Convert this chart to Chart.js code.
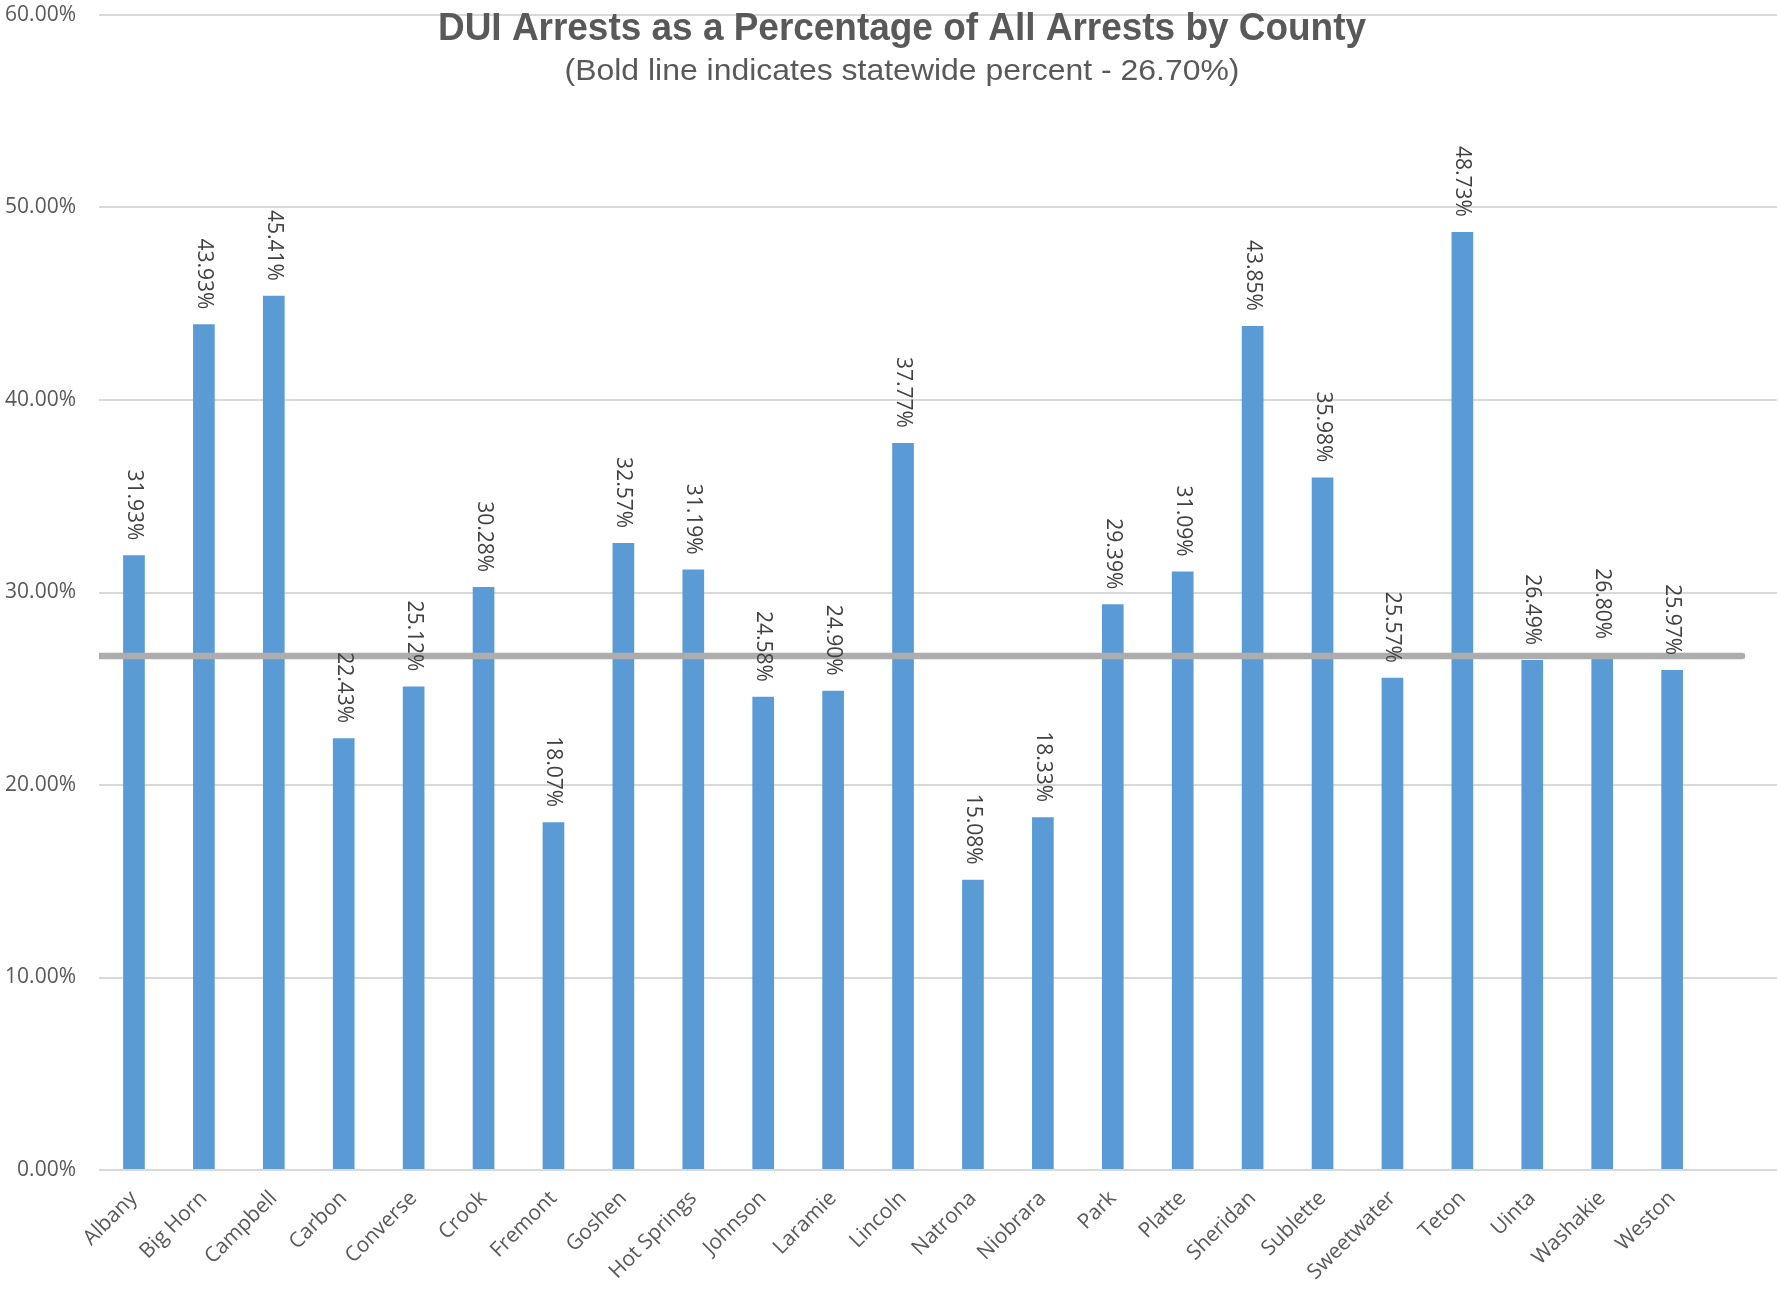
<!DOCTYPE html>
<html>
<head>
<meta charset="utf-8">
<script src="https://cdn.jsdelivr.net/npm/chart.js"></script>
<style>
  body { margin: 0; background: #fff; }
  #wrap { width: 1780px; height: 1304px; }
</style>
</head>
<body>
<div id="wrap"><canvas id="duiChart" width="1780" height="1304"></canvas></div>
<script>
// counties (last slot is an empty category, as in the original sheet)
var counties = ['Albany', 'Big Horn', 'Campbell', 'Carbon', 'Converse', 'Crook', 'Fremont',
  'Goshen', 'Hot Springs', 'Johnson', 'Laramie', 'Lincoln', 'Natrona', 'Niobrara', 'Park',
  'Platte', 'Sheridan', 'Sublette', 'Sweetwater', 'Teton', 'Uinta', 'Washakie', 'Weston', ''];
var duiPercent = [31.93, 43.93, 45.41, 22.43, 25.12, 30.28, 18.07, 32.57, 31.19, 24.58, 24.90,
  37.77, 15.08, 18.33, 29.39, 31.09, 43.85, 35.98, 25.57, 48.73, 26.49, 26.80, 25.97, null];
var statewidePercent = 26.70;
var statewideSpan = [0, 23.5]; // where the bold line starts / stops, in category units
var yTicks = { min: 0, max: 60, step: 10 };

var titleText = 'DUI Arrests as a Percentage of All Arrests by County';
var subtitleText = '(Bold line indicates statewide percent - 26.70%)';

// rotated value labels above each bar
var valueLabels = {
  id: 'valueLabels',
  afterDatasetsDraw: function (chart) {
    var ctx = chart.ctx;
    var meta = chart.getDatasetMeta(0); // bars
    ctx.save();
    ctx.font = '21px "Open Sans"';
    ctx.fillStyle = '#404040';
    ctx.textAlign = 'right';
    ctx.textBaseline = 'middle';
    meta.data.forEach(function (bar, i) {
      if (duiPercent[i] == null) return;
      ctx.save();
      ctx.translate(bar.x, bar.y - 15);
      ctx.rotate(Math.PI / 2);
      ctx.fillText(duiPercent[i].toFixed(2) + '%', 0, 0);
      ctx.restore();
    });
    ctx.restore();
  }
};

// title + subtitle sit over the top of the plot, narrow like the original
var titles = {
  id: 'titles',
  afterDraw: function (chart) {
    var ctx = chart.ctx;
    function squeezed(text, font, color, cx, baseline, width) {
      ctx.save();
      ctx.font = font;
      ctx.fillStyle = color;
      ctx.textAlign = 'center';
      ctx.textBaseline = 'alphabetic';
      var w = ctx.measureText(text).width;
      ctx.translate(cx, baseline);
      ctx.scale(width / w, 1);
      ctx.fillText(text, 0, 0);
      ctx.restore();
    }
    squeezed(titleText, 'bold 38px "Liberation Sans"', '#595959', 902, 40, 928);
    squeezed(subtitleText, '29px "Liberation Sans"', '#595959', 902, 80, 675);
  }
};

var ctx = document.getElementById('duiChart').getContext('2d');
var duiChart = new Chart(ctx, {
  type: 'bar',
  data: {
    labels: counties,
    datasets: [
      {
        type: 'bar',
        data: duiPercent,
        backgroundColor: '#5B9BD5',
        borderWidth: 0,
        grouped: false,
        categoryPercentage: 1,
        barPercentage: 0.31,
        order: 1
      },
      {
        type: 'line',
        data: [{ x: statewideSpan[0], y: statewidePercent }, { x: statewideSpan[1], y: statewidePercent }],
        xAxisID: 'x2',
        borderColor: '#ADADAD',
        borderWidth: 6.5,
        borderCapStyle: 'round',
        pointRadius: 0,
        order: 0
      }
    ]
  },
  options: {
    responsive: false,
    animation: false,
    devicePixelRatio: 1,
    layout: { padding: { top: 15, right: 3, left: 0, bottom: 0 } },
    plugins: {
      legend: { display: false },
      tooltip: { enabled: false }
    },
    scales: {
      x: {
        type: 'category',
        grid: { display: false },
        border: { display: false },
        ticks: {
          autoSkip: false,
          maxRotation: 45,
          minRotation: 45,
          padding: 8,
          color: '#595959',
          font: { family: '"Open Sans"', size: 21 }
        },
        afterFit: function (scale) { scale.height = 134; }
      },
      x2: {
        type: 'linear',
        display: false,
        offset: false,
        bounds: 'ticks',
        min: 0,
        max: counties.length
      },
      y: {
        min: yTicks.min,
        max: yTicks.max,
        grid: { color: '#D9D9D9', lineWidth: 2, drawTicks: false },
        border: { display: false },
        ticks: {
          stepSize: yTicks.step,
          padding: 23,
          color: '#595959',
          font: { family: '"Open Sans"', size: 21 },
          callback: function (v) { return v.toFixed(2) + '%'; }
        },
        afterFit: function (scale) {
          scale.width = 99;
          scale.paddingTop = 0;
          scale.paddingBottom = 0;
        }
      }
    }
  },
  plugins: [valueLabels, titles]
});
</script>
</body>
</html>
